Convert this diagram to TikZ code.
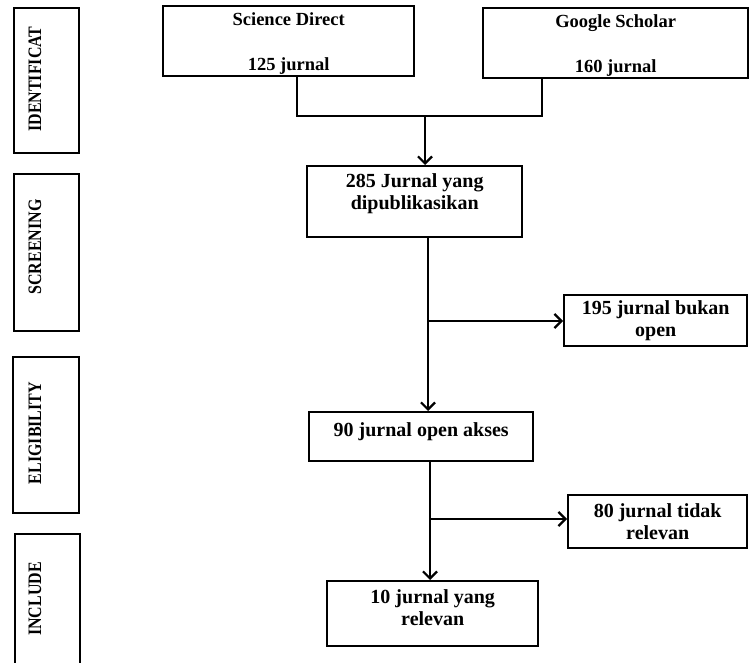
\documentclass[tikz,border=0pt]{standalone}
\usepackage{fontspec}
\setmainfont{Liberation Serif}
\usetikzlibrary{arrows.meta}
\newcommand{\narrowlabel}[1]{\scalebox{0.84}[1]{#1}}
\tikzset{
  box/.style={draw, line width=2.4pt, inner sep=0pt, anchor=north west, align=center,
    font=\bfseries\fontsize{20}{22}\selectfont},
  topbox/.style={box, font=\bfseries\fontsize{18.5}{21}\selectfont},
  stagebox/.style={draw, line width=2.4pt, inner sep=0pt, anchor=north west},
  stagetext/.style={rotate=90, inner sep=0pt, font=\bfseries\fontsize{19}{20}\selectfont},
  conn/.style={line width=2.4pt},
  arr/.style={line width=2.4pt, -{Straight Barb[length=7pt,width=14pt,line width=2.2pt]}}
}
\begin{document}
\begin{tikzpicture}[x=1pt, y=-1pt]
\path[use as bounding box, fill=white] (0,0) rectangle (749,663);
% stage boxes
\node[stagebox, minimum width=65pt, minimum height=145pt] (sid) at (13,7) {};
\node[stagebox, minimum width=65pt, minimum height=157pt] (sscr) at (13,173) {};
\node[stagebox, minimum width=66pt, minimum height=156pt] (selig) at (12,356) {};
\node[stagebox, minimum width=65pt, minimum height=140pt] (sinc) at (14,533) {};
\node[stagetext] (tid) at (35,79) {\narrowlabel{IDENTIFICAT}};
\node[stagetext] (tscr) at (35,247) {\narrowlabel{SCREENING}};
\node[stagetext] (telig) at (35,433) {\narrowlabel{ELIGIBILITY}};
\node[stagetext] (tinc) at (35,599) {\narrowlabel{INCLUDE}};
% flow boxes
\node[topbox, minimum width=251pt, minimum height=70pt, text depth=0pt] (sd) at (162,5) {Science Direct\\[24pt]125 jurnal};
\node[topbox, minimum width=265pt, minimum height=70pt, text depth=0pt] (gs) at (482,7) {Google Scholar\\[24pt]160 jurnal};
\node[box, minimum width=215pt, minimum height=71pt, text depth=20pt] (b285) at (306,165) {285 Jurnal yang\\dipublikasikan};
\node[box, minimum width=183pt, minimum height=51pt] (b195) at (563,294) {195 jurnal bukan\\open};
\node[box, minimum width=224pt, minimum height=49pt, text depth=14pt] (b90) at (308,411) {90 jurnal open akses};
\node[box, minimum width=179pt, minimum height=53pt] (b80) at (567,494) {80 jurnal tidak\\relevan};
\node[box, minimum width=211pt, minimum height=65pt, text depth=12pt] (b10) at (326,580) {10 jurnal yang\\relevan};
% connectors
\coordinate (jl) at (297,116);
\coordinate (jr) at (542,116);
\coordinate (j) at (425,116);
\draw[conn] (sd.south -| jl) -- (jl) -- (jr) -- (gs.south -| jr);
\draw[arr] (j) -- (b285.north -| j);
\coordinate (k1) at (428,321);
\draw[arr] (b285.south -| k1) -- (b90.north -| k1);
\draw[arr] (k1) -- (b195.west |- k1);
\coordinate (k2) at (430,519);
\draw[arr] (b90.south -| k2) -- (b10.north -| k2);
\draw[arr] (k2) -- (b80.west |- k2);
\end{tikzpicture}
\end{document}
